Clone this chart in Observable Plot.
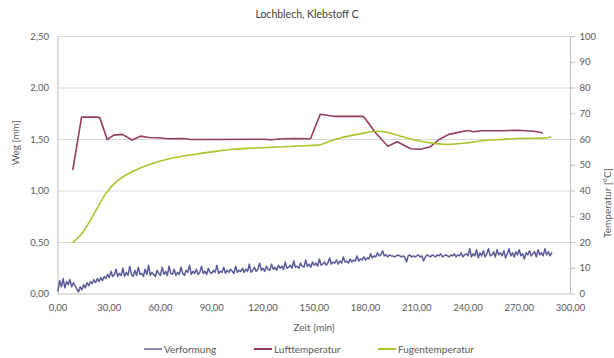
<!DOCTYPE html>
<html>
<head>
<meta charset="utf-8">
<script src="https://cdn.jsdelivr.net/npm/d3@7"></script>
<script src="https://cdn.jsdelivr.net/npm/@observablehq/plot@0.6"></script>
<style>
  html, body { margin: 0; padding: 0; background: #fff; }
  body { width: 614px; height: 358px; position: relative; overflow: hidden; font-family: Lato, "Open Sans", sans-serif; }
  #title { height: 20px; padding-top: 4px; line-height: 20px; text-align: center; font-size: 10.5px; color: #404040; }
  #legend { position: absolute; top: 340px; left: 0; width: 614px; height: 18px; font-size: 10px; color: #595959; }
  .item { position: absolute; top: 0; line-height: 18px; white-space: nowrap; }
  .sw { display: inline-block; width: 18px; height: 0; border-top: 2px solid; vertical-align: middle; margin-right: 2px; position: relative; top: -1px; }
</style>
</head>
<body>
<div id="title">Lochblech, Klebstoff C</div>
<div id="chart"></div>
<div id="legend"></div>
<script>
// Axis ticks
const wegTicks = [0, 0.5, 1.0, 1.5, 2.0, 2.5];
const tempTicks = [0, 10, 20, 30, 40, 50, 60, 70, 80, 90, 100];
const zeitTicks = [0, 30, 60, 90, 120, 150, 180, 210, 240, 270, 300];

// Lufttemperatur [°C] over Zeit [min]
const luftZeit = [8.7, 13.8, 22.9, 24.5, 28.8, 32.7, 37.6, 43.4, 48.3, 53.2, 59, 63.9, 73.7, 77.6, 85.4, 120.5, 124.4, 132.2, 139, 147.8, 153.5, 161.5, 178.1, 179, 185.9, 193.1, 198.6, 206.4, 212.2, 218.1, 223, 228.8, 239.6, 243.4, 247.4, 259.1, 268.9, 278.6, 283.5];
const luftTemp = [48.4, 68.7, 68.7, 68.4, 60.0, 61.7, 62.0, 59.8, 61.3, 60.8, 60.7, 60.3, 60.4, 60.0, 60.0, 60.1, 59.9, 60.3, 60.4, 60.3, 69.8, 69.0, 69.0, 68.8, 62.6, 57.4, 59.1, 56.4, 56.2, 57.2, 60.0, 62.0, 63.5, 63.0, 63.4, 63.4, 63.6, 63.2, 62.6];

// Fugentemperatur [°C] over Zeit [min]
const fugeZeit = [8.7, 13.8, 21, 27.8, 34.7, 44.4, 54.1, 63.9, 73.7, 83.4, 93.2, 102.9, 112.7, 122.5, 132.2, 143.9, 151.8, 159.5, 165.4, 175.2, 186.9, 190.8, 200.6, 210.4, 220.1, 227.9, 239.6, 249.3, 259.1, 268.9, 278.6, 285.4, 288.4];
const fugeTemp = [20.0, 23.3, 31.0, 38.8, 43.9, 47.8, 50.4, 52.3, 53.6, 54.6, 55.5, 56.2, 56.6, 56.9, 57.2, 57.6, 57.8, 59.4, 60.6, 62.0, 63.2, 63.0, 61.3, 59.6, 58.5, 58.1, 58.7, 59.6, 60.0, 60.4, 60.5, 60.6, 61.0];

// Verformung [mm], one reading per minute from 0 min
const verformung = [
  0.03, 0.13, 0.07, 0.15, 0.06, 0.12, 0.09, 0.14, 0.07, 0.11,
  0.08, 0.05, 0.02, 0.07, 0.04, 0.09, 0.06, 0.11, 0.08, 0.12,
  0.10, 0.14, 0.11, 0.15, 0.12, 0.16, 0.13, 0.17, 0.15, 0.19,
  0.16, 0.22, 0.17, 0.19, 0.24, 0.17, 0.20, 0.18, 0.25, 0.17,
  0.21, 0.18, 0.27, 0.19, 0.17, 0.23, 0.18, 0.26, 0.19, 0.20,
  0.17, 0.24, 0.19, 0.28, 0.18, 0.21, 0.19, 0.17, 0.23, 0.20,
  0.18, 0.26, 0.19, 0.22, 0.18, 0.27, 0.20, 0.19, 0.24, 0.18,
  0.21, 0.19, 0.26, 0.20, 0.18, 0.23, 0.21, 0.28, 0.19, 0.22,
  0.20, 0.24, 0.19, 0.21, 0.27, 0.20, 0.22, 0.19, 0.25, 0.21,
  0.20, 0.23, 0.21, 0.28, 0.20, 0.22, 0.21, 0.26, 0.20, 0.23,
  0.21, 0.24, 0.22, 0.20, 0.27, 0.21, 0.23, 0.22, 0.25, 0.21,
  0.24, 0.22, 0.29, 0.21, 0.23, 0.26, 0.22, 0.24, 0.30, 0.23,
  0.25, 0.22, 0.27, 0.24, 0.23, 0.29, 0.24, 0.26, 0.23, 0.28,
  0.25, 0.27, 0.24, 0.31, 0.25, 0.26, 0.28, 0.25, 0.32, 0.26,
  0.27, 0.25, 0.30, 0.27, 0.26, 0.33, 0.27, 0.29, 0.26, 0.31,
  0.28, 0.30, 0.27, 0.34, 0.28, 0.29, 0.31, 0.28, 0.30, 0.35,
  0.29, 0.31, 0.30, 0.33, 0.29, 0.32, 0.30, 0.36, 0.31, 0.32,
  0.30, 0.34, 0.31, 0.33, 0.32, 0.37, 0.32, 0.34, 0.33, 0.36,
  0.33, 0.35, 0.34, 0.39, 0.35, 0.37, 0.36, 0.40, 0.37, 0.38,
  0.42, 0.37, 0.38, 0.36, 0.38, 0.37, 0.37, 0.36, 0.37, 0.38,
  0.37, 0.36, 0.37, 0.36, 0.31, 0.37, 0.38, 0.36, 0.37, 0.36,
  0.37, 0.38, 0.36, 0.37, 0.32, 0.36, 0.38, 0.37, 0.36, 0.38,
  0.37, 0.36, 0.38, 0.37, 0.39, 0.36, 0.37, 0.38, 0.37, 0.36,
  0.38, 0.37, 0.39, 0.36, 0.38, 0.37, 0.40, 0.36, 0.38, 0.39,
  0.37, 0.44, 0.36, 0.39, 0.37, 0.43, 0.35, 0.40, 0.37, 0.42,
  0.36, 0.39, 0.44, 0.37, 0.38, 0.41, 0.36, 0.43, 0.38, 0.40,
  0.37, 0.42, 0.35, 0.39, 0.44, 0.37, 0.40, 0.36, 0.41, 0.38,
  0.43, 0.37, 0.39, 0.34, 0.40, 0.38, 0.42, 0.37, 0.39, 0.41,
  0.36, 0.43, 0.38, 0.40, 0.37, 0.44, 0.38, 0.41, 0.37, 0.40
];

const seriesNames = ["Verformung", "Lufttemperatur", "Fugentemperatur"];
const seriesColors = ["#5a5a9a", "#953b62", "#a8c62c"];

// Temperature shares the left scale: 100 °C corresponds to 2,50 mm
const tempToWeg = 2.5 / 100;

const verfData = verformung.map((v, i) => ({zeit: i, wert: v}));
const luftData = luftZeit.map((z, i) => ({zeit: z, wert: luftTemp[i] * tempToWeg}));
const fugeData = fugeZeit.map((z, i) => ({zeit: z, wert: fugeTemp[i] * tempToWeg}));

const comma = d => d.toFixed(2).replace(".", ",");
const axisColor = "#bfbfbf";
const textColor = "#595959";

const chart = Plot.plot({
  width: 614,
  height: 316,
  marginTop: 12,
  marginBottom: 46.5,
  marginLeft: 57.5,
  marginRight: 44,
  style: {fontFamily: "Lato, 'Open Sans', sans-serif", fontSize: "9.5px", color: textColor, background: "#fff"},
  x: {domain: [0, 300]},
  y: {domain: [0, 2.5]},
  marks: [
    Plot.ruleY(wegTicks.slice(1), {stroke: "#d9d9d9", strokeWidth: 1}),
    Plot.ruleX([0, 300], {stroke: axisColor, strokeWidth: 1}),
    Plot.ruleY([0], {stroke: axisColor, strokeWidth: 1}),
    Plot.axisY(wegTicks, {anchor: "left", tickSize: 0, tickPadding: 9, tickFormat: comma, label: null, fill: textColor}),
    Plot.axisY(tempTicks.map(t => t * tempToWeg), {anchor: "right", tickSize: 4, tickPadding: 5, stroke: axisColor, tickFormat: d => String(Math.round(d / tempToWeg)), label: null, fill: textColor}),
    Plot.axisX(zeitTicks, {anchor: "bottom", tickSize: 0, tickPadding: 10, tickFormat: comma, label: null, fill: textColor}),
    Plot.text(["Zeit [min]"], {text: d => d, frameAnchor: "bottom", dy: 36.5, fill: textColor, fontSize: 10}),
    Plot.text(["Weg [mm]"], {text: d => d, frameAnchor: "left", dx: -42, rotate: -90, fill: textColor, fontSize: 10}),
    Plot.text(["Temperatur [°C]"], {text: d => d, frameAnchor: "right", dx: 37, dy: 3, rotate: -90, fill: textColor, fontSize: 10}),
    Plot.line(verfData, {x: "zeit", y: "wert", stroke: seriesColors[0], strokeWidth: 1.5}),
    Plot.line(luftData, {x: "zeit", y: "wert", stroke: seriesColors[1], strokeWidth: 1.6}),
    Plot.line(fugeData, {x: "zeit", y: "wert", stroke: seriesColors[2], strokeWidth: 1.6, curve: "monotone-x"})
  ]
});
document.getElementById("chart").appendChild(chart);

// Legend below the chart
const legendLeft = [144, 254, 378];
const legend = document.getElementById("legend");
seriesNames.forEach((name, i) => {
  const item = document.createElement("div");
  item.className = "item";
  item.style.left = legendLeft[i] + "px";
  const sw = document.createElement("span");
  sw.className = "sw";
  sw.style.borderTopColor = i === 0 ? "#8a8aa8" : seriesColors[i];
  item.appendChild(sw);
  item.appendChild(document.createTextNode(name));
  legend.appendChild(item);
});
</script>
</body>
</html>
